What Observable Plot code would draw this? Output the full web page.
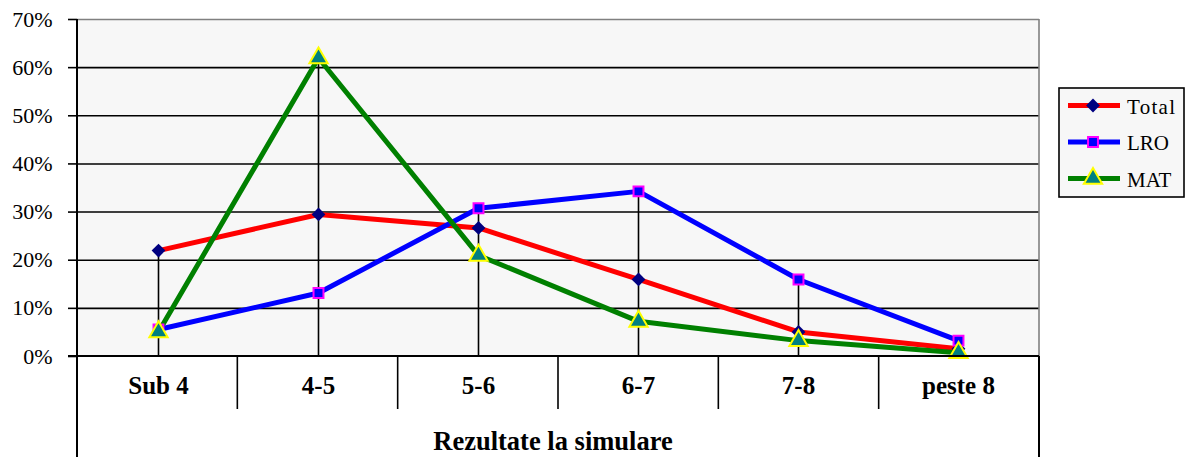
<!DOCTYPE html>
<html>
<head>
<meta charset="utf-8">
<script src="https://cdn.jsdelivr.net/npm/d3@7"></script>
<script src="https://cdn.jsdelivr.net/npm/@observablehq/plot@0.6"></script>
<style>
  html, body { margin: 0; padding: 0; background: #fff; }
  #chart { width: 1186px; height: 457px; }
  #chart svg, #chart svg text { font-family: "Liberation Serif", "Times New Roman", Tinos, "DejaVu Serif", serif !important; }
</style>
</head>
<body>
<div id="chart"></div>
<script>
const categories = ["Sub 4", "4-5", "5-6", "6-7", "7-8", "peste 8"];
const totalValues = [22.0, 29.5, 26.7, 16.0, 5.1, 1.6];
const lroValues = [5.6, 13.2, 30.8, 34.3, 16.0, 3.3];
const matValues = [5.1, 62.0, 21.0, 7.3, 3.3, 0.8];
const yTicks = [0, 10, 20, 30, 40, 50, 60, 70];
const xTitle = "Rezultate la simulare";
const seriesNames = ["Total", "LRO", "MAT"];

const seriesStyle = {
  Total: {stroke: "#ff0000", symbol: "diamond2", fill: "#000080", mstroke: "#000080", r: 6.2},
  LRO: {stroke: "#0000ff", symbol: "square", fill: "#0000ff", mstroke: "#ff00ff", r: 5.6},
  MAT: {stroke: "#008000", symbol: "triangle", fill: "#008080", mstroke: "#ffff00", r: 6.8}
};
const seriesValues = {Total: totalValues, LRO: lroValues, MAT: matValues};

const rows = [];
for (const s of seriesNames) {
  categories.forEach((c, i) => rows.push({series: s, cat: c, value: seriesValues[s][i]}));
}
const maxRows = categories.map((c, i) => ({cat: c, value: Math.max(totalValues[i], lroValues[i], matValues[i])}));

const font = "'Liberation Serif', 'Times New Roman', Tinos, 'DejaVu Serif', serif";

const marks = [
  Plot.frame({fill: "#f7f7f7", stroke: null}),
  Plot.ruleY(yTicks.filter(t => t > 0 && t < 70), {stroke: "#000", strokeWidth: 1.6}),
  Plot.ruleY([70], {stroke: "#808080", strokeWidth: 1.6}),
  Plot.ruleX(maxRows, {x: "cat", y1: 0, y2: "value", stroke: "#000", strokeWidth: 1.6})
];
for (const s of seriesNames) {
  const st = seriesStyle[s];
  const data = rows.filter(d => d.series === s);
  marks.push(Plot.line(data, {x: "cat", y: "value", stroke: st.stroke, strokeWidth: 5, strokeLinejoin: "round"}));
}
for (const s of seriesNames) {
  const st = seriesStyle[s];
  const data = rows.filter(d => d.series === s);
  marks.push(Plot.dot(data, {x: "cat", y: "value", symbol: () => st.symbol, r: st.r, fill: st.fill, stroke: st.mstroke, strokeWidth: s === "Total" ? 0 : 2}));
}
marks.push(
  Plot.axisY({ticks: yTicks, tickFormat: d => d + "%", tickSize: 9, tickPadding: 16, fontSize: 22, fontFamily: font, stroke: "#000", strokeWidth: 1.6, label: null, fill: "#000"}),
  Plot.axisX({tickSize: 0, tickPadding: 20, fontSize: 25, fontFamily: font, fontWeight: "bold", label: null, fill: "#000"})
);

const plot = Plot.plot({
  width: 1186,
  height: 457,
  marginLeft: 77,
  marginRight: 147,
  marginTop: 19,
  marginBottom: 101,
  style: {fontFamily: font, background: "#fff", color: "#000"},
  x: {type: "band", domain: categories, padding: 0},
  y: {domain: [0, 70]},
  marks
});

document.getElementById("chart").appendChild(plot);

const svg = d3.select(plot);
const xs = plot.scale("x");
const ys = plot.scale("y");
const band = d3.scaleBand().domain(xs.domain).range(xs.range).padding(0);
const x0 = xs.range[0], x1 = xs.range[1];
const yBase = Math.max(...ys.range);
const yTop = Math.min(...ys.range);
const g = svg.append("g");
g.append("line").attr("x1", x1).attr("x2", x1).attr("y1", yTop).attr("y2", yBase).attr("stroke", "#808080").attr("stroke-width", 1.6);
g.append("line").attr("x1", x0).attr("x2", x0).attr("y1", yTop).attr("y2", 457).attr("stroke", "#000").attr("stroke-width", 2);
g.append("line").attr("x1", x1).attr("x2", x1).attr("y1", yBase).attr("y2", 457).attr("stroke", "#000").attr("stroke-width", 2);
g.append("line").attr("x1", x0 - 9).attr("x2", x1).attr("y1", yBase).attr("y2", yBase).attr("stroke", "#000").attr("stroke-width", 2);
categories.slice(1).forEach(c => {
  const xx = band(c);
  g.append("line").attr("x1", xx).attr("x2", xx).attr("y1", yBase).attr("y2", yBase + 53).attr("stroke", "#000").attr("stroke-width", 1.6);
});
g.append("text").attr("x", (x0 + x1) / 2 - 5).attr("y", 450).attr("text-anchor", "middle")
  .attr("font-family", font).attr("font-size", 26.5).attr("font-weight", "bold").attr("fill", "#000").text(xTitle);

const lg = svg.append("g");
lg.append("rect").attr("x", 1059).attr("y", 88).attr("width", 125).attr("height", 109)
  .attr("fill", "#f7f7f7").attr("stroke", "#000").attr("stroke-width", 1.6);
const legY = [105.5, 142, 178.5];
seriesNames.forEach((s, i) => {
  const st = seriesStyle[s];
  const y = legY[i];
  lg.append("line").attr("x1", 1068).attr("x2", 1120).attr("y1", y).attr("y2", y).attr("stroke", st.stroke).attr("stroke-width", 5);
  lg.append("path").attr("transform", `translate(1093,${y})`)
    .attr("d", d3.symbol().type(st.symbol === "diamond2" ? d3.symbolDiamond2 : st.symbol === "square" ? d3.symbolSquare : d3.symbolTriangle).size(Math.PI * st.r * st.r)())
    .attr("fill", st.fill).attr("stroke", st.mstroke).attr("stroke-width", s === "Total" ? 0 : 2);
  lg.append("text").attr("x", 1127).attr("y", y + 8).attr("text-anchor", "start").attr("font-family", font).attr("font-size", 21)
    .attr("letter-spacing", s === "Total" ? 1.3 : 0).attr("fill", "#000").text(s);
});
</script>
</body>
</html>
